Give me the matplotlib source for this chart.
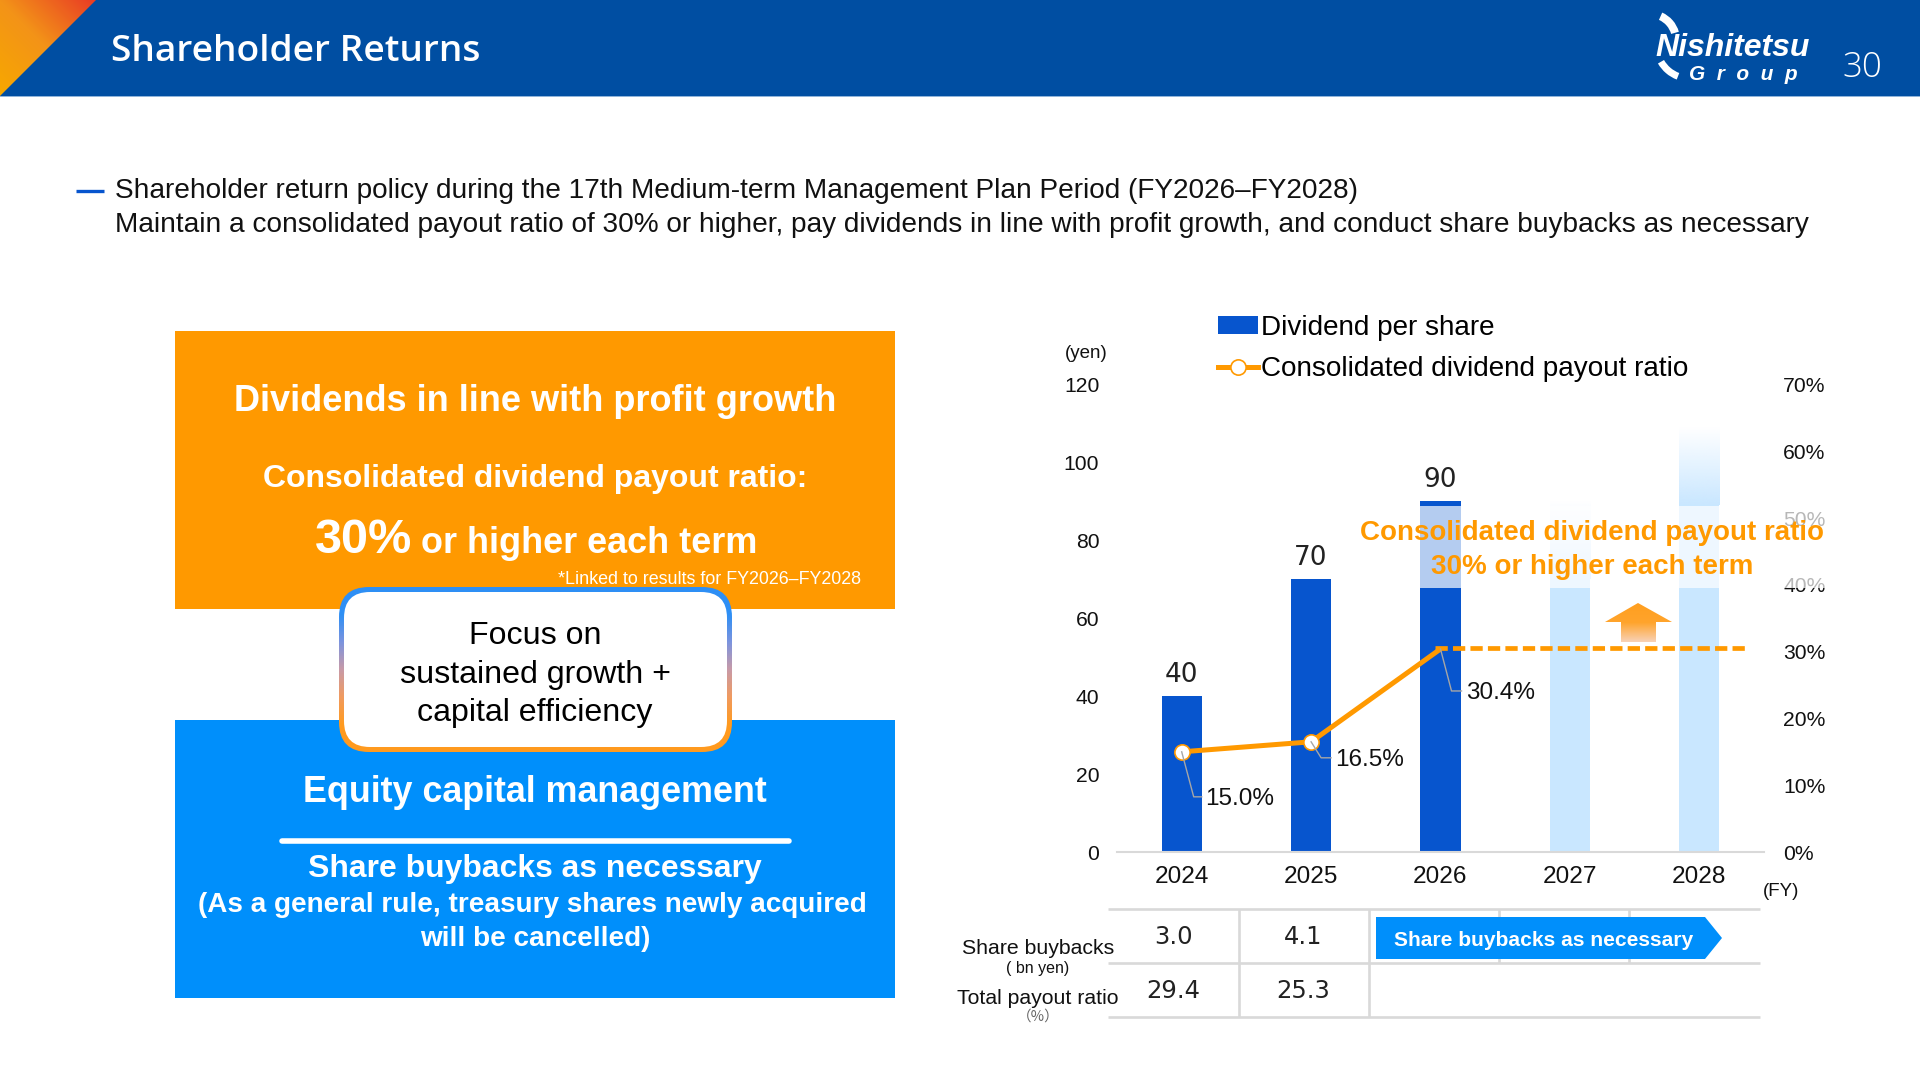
import matplotlib
matplotlib.use('Agg')
import matplotlib.pyplot as plt
import numpy as np
from matplotlib.colors import LinearSegmentedColormap
from matplotlib.lines import Line2D
from matplotlib.patches import FancyBboxPatch, Polygon, Rectangle, Wedge
from matplotlib.transforms import IdentityTransform

plt.rcParams['font.family'] = ['Liberation Sans', 'DejaVu Sans']

fiscal_years = ['2024', '2025', '2026', '2027', '2028']
dividends = [40, 70, 90]
plan_tops = [90, 109]
plan_solid = [70, 89]
payout_ratio = [15.0, 16.5, 30.4]
payout_target = [30.6, 30.6]
buybacks = ['3.0', '4.1']
total_payout = ['29.4', '25.3']
left_ticks = [0, 20, 40, 60, 80, 100, 120]
right_ticks = [0, 10, 20, 30, 40, 50, 60, 70]

NAVY = '#004EA2'
ORANGE = '#FF9900'
SKY = '#008FFB'
BLUE = '#0755CE'
PALE = '#C9E7FF'
GRID = '#D9D9D9'
W, H = 1920, 1080


def gradient(ax, extent, colors, clip, angle='v', zorder=2):
    # fill a box with a gradient and cut it to the given patch
    ramp = np.linspace(0, 1, 256).reshape(-1, 1)
    if angle == 'd':
        xx, yy = np.meshgrid(np.linspace(1, 0, 256), np.linspace(0, 1, 256))
        ramp = (xx * 0.5 + yy * 0.5)
    cmap = LinearSegmentedColormap.from_list('g', colors)
    im = ax.imshow(ramp, extent=extent, cmap=cmap, aspect='auto', origin='upper', zorder=zorder, vmin=0, vmax=1)
    clip.set_transform(ax.transData)
    im.set_clip_path(clip)
    return im


def pixel_axes(zorder):
    a = fig.add_axes([0, 0, 1, 1], zorder=zorder)
    a.set_xlim(0, W)
    a.set_ylim(H, 0)
    a.axis('off')
    a.patch.set_alpha(0)
    return a


fig = plt.figure(figsize=(19.2, 10.8), dpi=100, facecolor='white')
bg = pixel_axes(0)

# header
bg.add_patch(Rectangle((0, 0), W, 96, color=NAVY, lw=0))
bg.add_patch(Rectangle((0, 96), W, 1, color='#8FB4DA', lw=0))
gradient(bg, (0, 96, 96, 0), ['#E93B25', '#F39318', '#F7A800'],
         Polygon([(0, 0), (96, 0), (0, 96)], closed=True), angle='d')
bg.text(111, 52, 'Shareholder Returns', color='white', fontsize=26.7, family='Open Sans', weight='semibold', va='center')
bg.text(1862, 68, '30', color='white', fontsize=25, family='Open Sans', weight='light', ha='center', va='center')

# logo
bg.add_patch(Wedge((1650, 40), 30, -66, -16, width=8, color='white', lw=0))
bg.add_patch(Wedge((1690, 45), 37, 111, 150, width=7, color='white', lw=0))
bg.text(1655, 48, 'Nishitetsu', color='white', fontsize=23, weight='bold', style='italic', va='center')
bg.text(1689, 74, 'G  r  o  u  p', color='white', fontsize=15, weight='bold', style='italic', va='center')

# policy text
bg.plot([76, 104], [191, 191], color=BLUE, lw=2.4, solid_capstyle='butt')
bg.text(115, 191.5, 'Shareholder return policy during the 17th Medium-term Management Plan Period (FY2026\u2013FY2028)',
        fontsize=20.17, va='center', color='#111111')
bg.text(115, 225.5, 'Maintain a consolidated payout ratio of 30% or higher, pay dividends in line with profit growth, and conduct share buybacks as necessary',
        fontsize=20.17, va='center', color='#111111')

# left boxes
bg.add_patch(Rectangle((175, 331), 720, 278, color=ORANGE, lw=0))
bg.add_patch(Rectangle((175, 720), 720, 278, color=SKY, lw=0))
bg.text(535, 401.5, 'Dividends in line with profit growth', color='white', fontsize=26, weight='bold', ha='center', va='center')
bg.text(535, 478.5, 'Consolidated dividend payout ratio:', color='white', fontsize=23.05, weight='bold', ha='center', va='center')
bg.text(315, 553, '30%', color='white', fontsize=35, weight='bold', va='baseline')
bg.text(421, 553, 'or higher each term', color='white', fontsize=25.9, weight='bold', va='baseline')
bg.text(861, 580, '*Linked to results for FY2026\u2013FY2028', color='white', fontsize=12.9, ha='right', va='center')
bg.text(535, 792.5, 'Equity capital management', color='white', fontsize=25.85, weight='bold', ha='center', va='center')
bg.plot([282, 789], [841, 841], color='white', lw=4, solid_capstyle='round')
bg.text(535, 869.5, 'Share buybacks as necessary', color='white', fontsize=22.95, weight='bold', ha='center', va='center')
bg.text(532.5, 904.5, '(As a general rule, treasury shares newly acquired', color='white', fontsize=20.1, weight='bold', ha='center', va='center')
bg.text(535, 938.5, 'will be cancelled)', color='white', fontsize=20.1, weight='bold', ha='center', va='center')

# rounded box in the middle, gradient border
outer = FancyBboxPatch((339 + 30, 587 + 30), 393 - 60, 165 - 60, boxstyle='round,pad=30,rounding_size=30', lw=0)
gradient(bg, (339, 732, 752, 587), ['#2E8FF5', '#2E8FF5', '#7C94DE', '#C89AA8', '#F09A60', '#FF9A1F', '#FF9A1F'], outer, zorder=3)
bg.add_patch(FancyBboxPatch((344 + 26, 592 + 26), 383 - 52, 155 - 52, boxstyle='round,pad=26,rounding_size=26',
                            facecolor='white', lw=0, zorder=4))
for y, line in zip([635.5, 674.5, 712.5], ['Focus on', 'sustained growth +', 'capital efficiency']):
    bg.text(535, y, line, color='black', fontsize=23.1, ha='center', va='center', zorder=5)

# table under the chart
for y in [909, 963, 1017]:
    bg.plot([1108, 1760], [y, y], color=GRID, lw=1.9, solid_capstyle='butt')
for x in [1239, 1369]:
    bg.plot([x, x], [909, 1017], color=GRID, lw=1.9, solid_capstyle='butt')
for x in [1499, 1629]:
    bg.plot([x, x], [909, 963], color=GRID, lw=1.9, solid_capstyle='butt')
for x, a, b in zip([1173, 1303], buybacks, total_payout):
    bg.text(x, 937.5, a, fontsize=17.5, family='DejaVu Sans', ha='center', va='center', color='#222222')
    bg.text(x, 991, b, fontsize=17.5, family='DejaVu Sans', ha='center', va='center', color='#222222')
bg.text(1038, 948, 'Share buybacks', fontsize=15.3, ha='center', va='center', color='#111111')
bg.text(1038, 968, '( bn yen)', fontsize=11.5, ha='center', va='center', color='#111111')
bg.text(1038, 998, 'Total payout ratio', fontsize=15.3, ha='center', va='center', color='#111111')
bg.text(1038, 1017, '\uff08%\uff09', fontsize=10.5, family='Noto Sans CJK JP', ha='center', va='center', color='#666666')
bg.add_patch(Polygon([(1376, 917), (1705, 917), (1722, 938), (1705, 959), (1376, 959)], closed=True,
                     color=SKY, lw=0, zorder=3))
bg.text(1544, 940, 'Share buybacks as necessary', color='white', fontsize=15.1, weight='bold', ha='center', va='center', zorder=4)

# chart
ax = fig.add_axes([1117 / W, 1 - 852 / H, (1764 - 1117) / W, (852 - 384.5) / H], zorder=1)
ax.patch.set_alpha(0)
x = np.arange(len(fiscal_years))
bar_w = 0.31
bars = ax.bar(x[:3], dividends, width=bar_w, color=BLUE, label='Dividend per share', zorder=2)
ax.bar(x[3:], plan_solid, width=bar_w, color=PALE, zorder=2)
fade = np.ones((256, 1, 4))
fade[:, :, :3] = matplotlib.colors.to_rgb(PALE)
fade[:, 0, 3] = np.linspace(0, 1, 256)
for xi, top, solid in zip(x[3:], plan_tops, plan_solid):
    ax.imshow(fade, extent=(xi - bar_w / 2, xi + bar_w / 2, solid, top), aspect='auto', origin='upper', zorder=2)
ax.bar_label(bars, labels=[str(v) for v in dividends], padding=5.8, fontsize=19, family='DejaVu Sans', color='#222222')
ax.set_xlim(-0.5, 4.5)
ax.set_ylim(0, 120)
ax.set_xticks(x, fiscal_years, fontsize=17.6, color='#111111')
ax.set_yticks(left_ticks)
ax.tick_params(axis='x', length=0, pad=10)
ax.tick_params(axis='y', length=0, pad=12.7, labelsize=15.2, labelcolor='#111111')
for s in ['top', 'left', 'right']:
    ax.spines[s].set_visible(False)
ax.spines['bottom'].set_color(GRID)
ax.spines['bottom'].set_linewidth(1.5)

ax2 = ax.twinx()
ax2.patch.set_alpha(0)
ax2.set_ylim(0, 70)
ax2.set_yticks(right_ticks, [f'{v}%' for v in right_ticks])
ax2.tick_params(axis='y', length=0, pad=13.7, labelsize=15.2, labelcolor='#111111')
for s in ['top', 'left', 'right', 'bottom']:
    ax2.spines[s].set_visible(False)
line, = ax2.plot(x[:3], payout_ratio, color=ORANGE, lw=3.6, solid_capstyle='butt', solid_joinstyle='miter',
                 label='Consolidated dividend payout ratio', zorder=3)
ax2.plot(x[:2], payout_ratio[:2], ls='none', marker='o', ms=11, mfc='white', mec=ORANGE, mew=1.2, zorder=6)
ax2.plot([1.96, 4.36], payout_target, color=ORANGE, lw=3.4, dashes=(2.6, 1.1), zorder=3)

# labels with elbow leaders, offsets in pixels from each point
leaders = [(12, 45, 20, 23), (10, 16, 20, 24), (11, 42, 21, 26)]
for xi, v, (ex, ey, endx, tx) in zip(x[:3], payout_ratio, leaders):
    px, py = ax2.transData.transform((xi, v))
    fig.add_artist(Line2D([px, px + ex, px + endx], [py, py - ey, py - ey], color='#A6A6A6', lw=1,
                          transform=IdentityTransform(), zorder=1.5))
    ax2.annotate(f'{v:.1f}%', (xi, v), xytext=(tx, -ey - 2.5), textcoords='offset pixels', fontsize=17.5,
                 va='center', color='#111111', zorder=6)

legend_marker = Line2D([], [], color=ORANGE, lw=3.6, marker='o', ms=11, mfc='white', mec=ORANGE, mew=1.2)
ax2.legend([bars, legend_marker], ['Dividend per share', 'Consolidated dividend payout ratio'], loc='upper left',
           bbox_to_anchor=(0.156, 1.149), frameon=False, fontsize=20.1, handlelength=1.42, handleheight=0.6,
           handletextpad=0.13, labelspacing=0.55, borderpad=0, borderaxespad=0)

bg.text(1086, 353, '(yen)', fontsize=13.5, ha='center', va='center', color='#111111')
bg.text(1781, 892, '(FY)', fontsize=13.5, ha='center', va='center', color='#111111')

# text box over the bars, half covers what is behind it
fg = pixel_axes(3)
fg.add_patch(Rectangle((1359, 505.5), 467, 82.5, facecolor='white', alpha=0.7, lw=0))
fg.text(1592, 532.5, 'Consolidated dividend payout ratio', color=ORANGE, fontsize=20, weight='bold', ha='center', va='center')
fg.text(1592, 566.5, '30% or higher each term', color=ORANGE, fontsize=20, weight='bold', ha='center', va='center')
up = Polygon([(1638, 603), (1672, 622), (1656, 622), (1656, 642), (1621, 642), (1621, 622), (1605, 622)], closed=True)
gradient(fg, (1605, 1672, 642, 603), ['#FF9F1F', '#FFA42C', '#F8D2B8'], up)
fg.set_xlim(0, W)
fg.set_ylim(H, 0)
bg.set_xlim(0, W)
bg.set_ylim(H, 0)
ax.set_xlim(-0.5, 4.5)
ax.set_ylim(0, 120)

fig.savefig('out.png', dpi=100)
